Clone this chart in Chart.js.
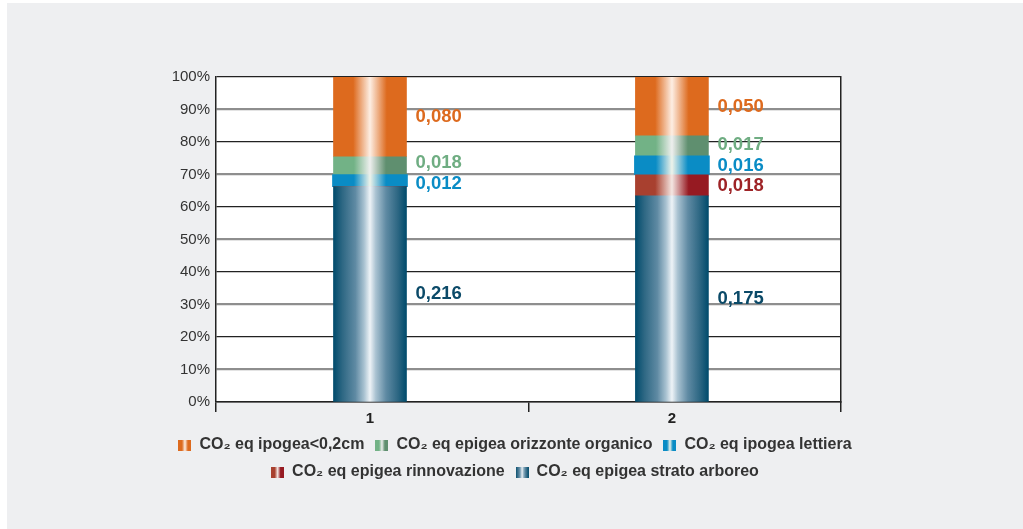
<!DOCTYPE html>
<html lang="it">
<head>
<meta charset="utf-8">
<title>CO2 eq</title>
<script src="https://cdn.jsdelivr.net/npm/chart.js@4.4.1/dist/chart.umd.min.js"></script>
<style>
  html, body { margin: 0; padding: 0; background: #fff; }
  #wrap { position: absolute; left: 7px; top: 3px; width: 1016px; height: 526px; background: #eeeff1; }
</style>
</head>
<body>
<div id="wrap"><canvas id="chart"></canvas></div>
<script>
// values per stand (t CO2 eq), bottom of the stack first
const categories = ["1", "2"];
const seriesNames = [
  "CO₂ eq epigea strato arboreo",
  "CO₂ eq epigea rinnovazione",
  "CO₂ eq ipogea lettiera",
  "CO₂ eq epigea orizzonte organico",
  "CO₂ eq ipogea<0,2cm"
];
const stratoArboreo = [0.216, 0.175];
const rinnovazione = [0, 0.018];
const lettiera = [0.012, 0.016];
const orizzonteOrganico = [0.018, 0.017];
const ipogea = [0.080, 0.050];
const yTicks = [0, 10, 20, 30, 40, 50, 60, 70, 80, 90, 100];

const seriesValues = [stratoArboreo, rinnovazione, lettiera, orizzonteOrganico, ipogea];

// bar shading: dark edges, light stripe in the middle
const styles = [
  { text: "#0b4a68", w: 73, stops: [[0, "#004b6c"], [0.12, "#2d6783"], [0.3, "#5f8aa3"], [0.42, "#a9c2d1"], [0.5, "#eef3f7"], [0.58, "#a9c2d1"], [0.72, "#5f8aa3"], [0.88, "#2d6783"], [1, "#004b6c"]] },
  { text: "#9e2326", w: 73, stops: [[0, "#a8402f"], [0.27, "#a8402f"], [0.5, "#f4e6e2"], [0.73, "#961a22"], [1, "#961a22"]] },
  { text: "#0a8cc5", w: 75, stops: [[0, "#0a8cc5"], [0.28, "#0a8cc5"], [0.5, "#eef3ea"], [0.72, "#0a8cc5"], [1, "#0a8cc5"]] },
  { text: "#6fad82", w: 73, stops: [[0, "#72b286"], [0.28, "#72b286"], [0.5, "#eeefee"], [0.72, "#5f8f6f"], [1, "#5f8f6f"]] },
  { text: "#dd6a1e", w: 73, stops: [[0, "#dd6a1e"], [0.27, "#dd6a1e"], [0.5, "#fdeee3"], [0.73, "#dd6a1e"], [1, "#dd6a1e"]] }
];

const totals = categories.map((c, i) => seriesValues.reduce((s, arr) => s + arr[i], 0));

function gradient(ctx, x0, x1, stops) {
  const g = ctx.createLinearGradient(x0, 0, x1, 0);
  stops.forEach(([p, c]) => g.addColorStop(p, c));
  return g;
}

// little striped swatch for the legend
function swatch(stops) {
  const cv = document.createElement("canvas");
  cv.width = 13; cv.height = 11;
  const c = cv.getContext("2d");
  c.fillStyle = gradient(c, 0, 13, stops);
  c.fillRect(0, 0, 13, 11);
  return cv;
}

const datasets = seriesNames.map((name, si) => ({
  label: name,
  rawValues: seriesValues[si],
  data: seriesValues[si].map((v, i) => ({ x: i + 1, y: v / totals[i] * 100 })),
  barThickness: styles[si].w,
  borderWidth: 0,
  backgroundColor: (c) => {
    const flat = styles[si].stops[0][1];
    const xs = c.chart.scales.x;
    if (!xs || c.dataIndex === undefined) return flat;
    const x = xs.getPixelForValue(c.dataIndex + 1);
    if (!isFinite(x)) return flat;
    return gradient(c.chart.ctx, x - 36.5, x + 36.5, styles[si].stops);
  }
}));

const plotBackground = {
  id: "plotBackground",
  beforeDraw(chart) {
    const { ctx, chartArea: a } = chart;
    ctx.save();
    ctx.fillStyle = "#fff";
    ctx.fillRect(a.left, a.top, a.right - a.left, a.bottom - a.top);
    ctx.restore();
  }
};

// value next to each segment; labels of thin segments are pushed apart
const LABEL_GAP = 21;
const valueLabels = {
  id: "valueLabels",
  afterDatasetsDraw(chart) {
    const ctx = chart.ctx;
    ctx.save();
    ctx.font = "bold 18.5px 'Liberation Sans', Arial, sans-serif";
    ctx.textAlign = "left";
    ctx.textBaseline = "middle";
    categories.forEach((cat, i) => {
      const labels = [];
      chart.data.datasets.forEach((ds, di) => {
        const bar = chart.getDatasetMeta(di).data[i];
        const v = ds.rawValues[i];
        if (!v || !bar) return;
        labels.push({ di, v, x: bar.x + 45.5, y: (bar.y + bar.base) / 2 });
      });
      labels.sort((a, b) => b.y - a.y);
      for (let k = 1; k < labels.length; k++) {
        const d = LABEL_GAP - (labels[k - 1].y - labels[k].y);
        if (d > 0) { labels[k - 1].y += d / 2; labels[k].y -= d / 2; }
      }
      labels.forEach(l => {
        ctx.fillStyle = styles[l.di].text;
        ctx.fillText(l.v.toFixed(3).replace(".", ","), l.x, l.y);
      });
    });
    ctx.restore();
  }
};

const xEdges = [0.49, 1.527, 2.56];
const isCategoryTick = (c) => c.tick && Number.isInteger(c.tick.value);
const isMajorGrid = (c) => !c.tick || c.tick.value % 20 === 0;

new Chart(document.getElementById("chart"), {
  type: "bar",
  data: { datasets },
  plugins: [plotBackground, valueLabels],
  options: {
    responsive: true,
    maintainAspectRatio: false,
    animation: false,
    layout: { padding: { left: 150, right: 150, top: 74, bottom: 39 } },
    plugins: {
      tooltip: { enabled: false },
      legend: {
        position: "bottom",
        reverse: true,
        labels: {
          color: "#333",
          font: { family: "'Liberation Sans', Arial, sans-serif", size: 16, weight: "bold" },
          usePointStyle: true,
          pointStyleWidth: 13,
          boxHeight: 11,
          padding: 11,
          generateLabels(chart) {
            const items = Chart.defaults.plugins.legend.labels.generateLabels(chart);
            items.forEach(it => { it.pointStyle = swatch(styles[it.datasetIndex].stops); });
            return items;
          }
        }
      }
    },
    scales: {
      x: {
        type: "linear",
        stacked: true,
        offset: false,
        min: xEdges[0],
        max: xEdges[2],
        afterBuildTicks(axis) {
          axis.ticks = [xEdges[0], 1, xEdges[1], 2, xEdges[2]].map(value => ({ value }));
        },
        afterFit(axis) { axis.height = 24; },
        border: { color: "#222", width: 1.5 },
        grid: {
          offset: false,
          drawOnChartArea: false,
          tickLength: 10,
          color: (c) => isCategoryTick(c) ? "rgba(0,0,0,0)" : "#222",
          lineWidth: 1.5
        },
        ticks: {
          autoSkip: false,
          maxRotation: 0,
          padding: -2,
          color: "#222",
          font: { family: "'Liberation Sans', Arial, sans-serif", size: 15, weight: "bold" },
          callback: (v) => Number.isInteger(v) ? categories[v - 1] : ""
        }
      },
      y: {
        stacked: true,
        min: 0,
        max: 100,
        afterBuildTicks(axis) { axis.ticks = yTicks.map(value => ({ value })); },
        afterFit(axis) { axis.width = 59; },
        border: { color: "#222", width: 1.5 },
        grid: {
          drawTicks: false,
          color: (c) => isMajorGrid(c) ? "#222" : "#8e8e8e",
          lineWidth: (c) => isMajorGrid(c) ? 1.2 : 2.2
        },
        ticks: {
          padding: 6,
          color: "#333",
          font: { family: "'Liberation Sans', Arial, sans-serif", size: 15 },
          callback: (v) => v + "%"
        }
      },
      // right-hand frame line; its width keeps the empty margin on the right
      y2: {
        position: "right",
        afterFit(axis) { axis.width = 32; },
        border: { color: "#222", width: 1.5 },
        grid: { drawOnChartArea: false, drawTicks: false },
        ticks: { display: false }
      }
    }
  }
});
</script>
</body>
</html>
